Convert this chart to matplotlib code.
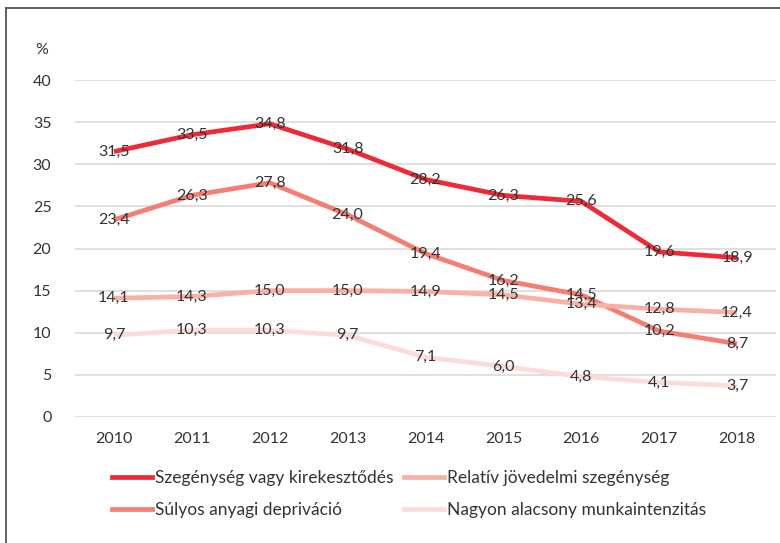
import matplotlib.pyplot as plt
from matplotlib.lines import Line2D

plt.rcParams['font.family'] = ['Lato', 'DejaVu Sans']

evek = ['2010', '2011', '2012', '2013', '2014', '2015', '2016', '2017', '2018']
szegenyseg = [31.5, 33.5, 34.8, 31.8, 28.2, 26.3, 25.6, 19.6, 18.9]
relativ = [14.1, 14.3, 15.0, 15.0, 14.9, 14.5, 13.4, 12.8, 12.4]
sulyos = [23.4, 26.3, 27.8, 24.0, 19.4, 16.2, 14.5, 10.2, 8.7]
nagyon = [9.7, 10.3, 10.3, 9.7, 7.1, 6.0, 4.8, 4.1, 3.7]

sorozatok = [
    ('Szegénység vagy kirekesztődés', szegenyseg, '#EE2A36'),
    ('Relatív jövedelmi szegénység', relativ, '#F9B0A6'),
    ('Súlyos anyagi depriváció', sulyos, '#F57D72'),
    ('Nagyon alacsony munkaintenzitás', nagyon, '#FCDCD8'),
]

fig = plt.figure(figsize=(7.8, 5.43), dpi=100)
ax = fig.add_axes([75 / 780, 1 - 417 / 543, 701 / 780, 337 / 543])

x = list(range(len(evek)))
for nev, ertekek, szin in reversed(sorozatok):
    ax.plot(x, ertekek, color=szin, linewidth=3.4, solid_capstyle='butt', zorder=3)

for nev, ertekek, szin in sorozatok:
    for xi, v in zip(x, ertekek):
        ax.text(xi, v, f'{v:.1f}'.replace('.', ','), ha='center', va='center',
                fontsize=11.5, color='#333333', zorder=5)

ax.set_xlim(-0.5, 8.5)
ax.set_ylim(0, 40)
ax.set_yticks(range(0, 41, 5))
ax.set_xticks(x)
ax.set_xticklabels(evek)
ax.grid(axis='y', color='#D9D9D9', linewidth=1.2, zorder=0)
ax.tick_params(axis='y', length=0, pad=17, labelsize=11.5, labelcolor='#333333')
ax.tick_params(axis='x', length=0, pad=11, labelsize=11.5, labelcolor='#333333')
for s in ax.spines.values():
    s.set_visible(False)

fig.text(42 / 780, 1 - 50 / 543, '%', ha='center', va='center', fontsize=11.5, color='#333333')

# legenda: oszloponként kitöltve
sorrend = [sorozatok[0], sorozatok[2], sorozatok[1], sorozatok[3]]
kezelok = [Line2D([0], [0], color=c, linewidth=3.4) for _, _, c in sorrend]
fig.legend(kezelok, [n for n, _, _ in sorrend], ncol=2, frameon=False,
           loc='center left', bbox_to_anchor=(112 / 780, 1 - 494 / 543),
           borderpad=0, borderaxespad=0,
           fontsize=12.5, handlelength=2.3, handletextpad=0.17,
           columnspacing=0.6, labelspacing=0.95, labelcolor='#333333')

# keret
fig.add_artist(Line2D([6 / 780, 6 / 780], [0, 1 - 8 / 543], color='#555555', linewidth=1.3))
fig.add_artist(Line2D([6 / 780, 1], [1 - 8 / 543, 1 - 8 / 543], color='#555555', linewidth=1.3))

fig.savefig('out.png', dpi=100)
